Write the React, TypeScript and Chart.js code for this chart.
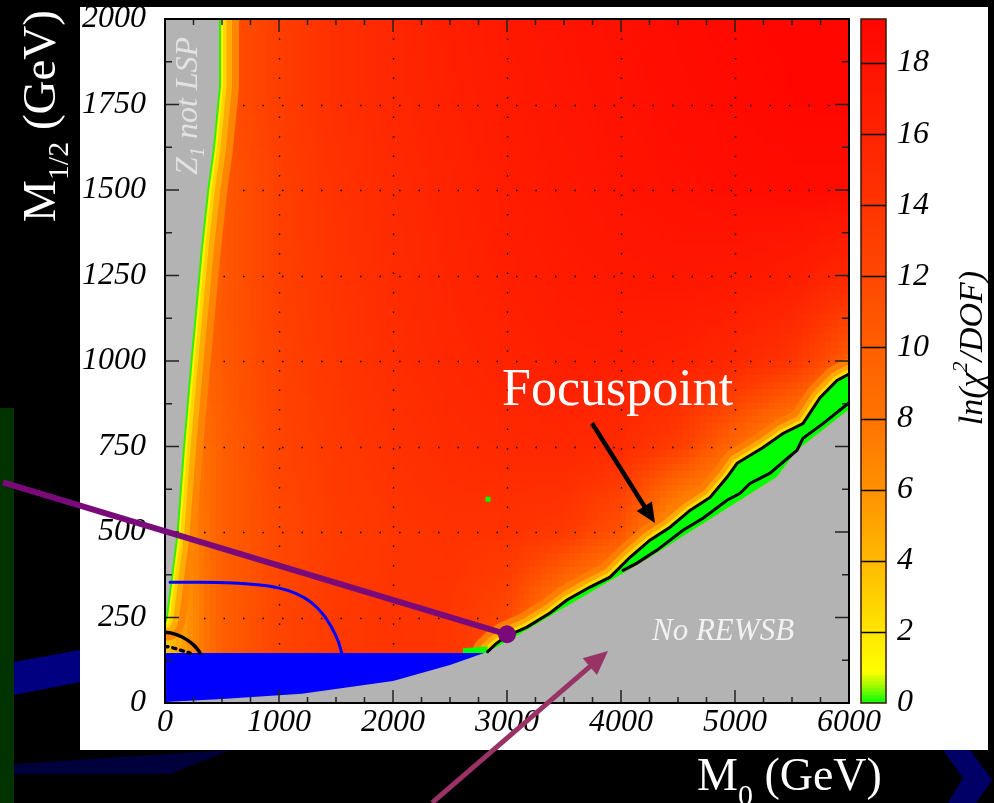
import React, { useEffect, useRef } from "react";
import { Chart, registerables } from "chart.js";

Chart.register(...registerables);

const SERIF = '"Liberation Serif", "Times New Roman", Times, serif';

// ---------- axes ----------
const M0_TICKS = [0, 1000, 2000, 3000, 4000, 5000, 6000];
const M12_TICKS = [0, 250, 500, 750, 1000, 1250, 1500, 1750, 2000];
const LNCHI_TICKS = [0, 2, 4, 6, 8, 10, 12, 14, 16, 18];
const LNCHI_MAX = 19.24;

// ---------- ln(chi2/DOF) map: node values, columns at GRID_M0, one array per M1/2 row ----------
const GRID_M0 = [0, 500, 1000, 1500, 2000, 2500, 3000, 3500, 4000, 4500, 5000, 5500, 6000];
const GRID_M12 = [0, 250, 500, 750, 1000, 1250, 1500, 1750, 2000];
const LNCHI_AT_0 = [3, 10, 12.3, 13.5, 14, 13.8, 12, 6, 2, 1, 1, 1, 1];
const LNCHI_AT_250 = [3, 10, 12.3, 13.5, 14, 13.8, 12, 6, 2, 1, 1, 1, 1];
const LNCHI_AT_500 = [4, 10, 12, 13.2, 13.8, 14.2, 14.2, 13.5, 11, 4, 2, 1, 1];
const LNCHI_AT_750 = [5, 10, 12.4, 13.5, 14.3, 15, 15.3, 15.5, 15, 13, 9, 5, 2];
const LNCHI_AT_1000 = [6, 10.5, 12.6, 13.8, 14.8, 15.5, 16, 16.5, 16.6, 16.3, 15.5, 14, 10];
const LNCHI_AT_1250 = [7, 10.5, 12.8, 14, 15, 15.8, 16.5, 17, 17.3, 17.5, 17.3, 16.8, 15.5];
const LNCHI_AT_1500 = [7, 10.5, 12.8, 14.2, 15.2, 16, 16.8, 17.3, 17.8, 18.1, 18.4, 18.6, 18.5];
const LNCHI_AT_1750 = [8, 11, 13, 14.5, 15.5, 16.3, 17, 17.6, 18, 18.4, 18.7, 19, 19.1];
const LNCHI_AT_2000 = [8, 11, 13, 14.5, 15.5, 16.5, 17.2, 17.8, 18.2, 18.6, 18.9, 19.1, 19.2];
const LNCHI_ROWS = [
  LNCHI_AT_0, LNCHI_AT_250, LNCHI_AT_500, LNCHI_AT_750, LNCHI_AT_1000,
  LNCHI_AT_1250, LNCHI_AT_1500, LNCHI_AT_1750, LNCHI_AT_2000,
];

// ---------- palette ----------
const PALETTE_AT = [0, 0.5, 0.9, 2, 4, 6, 8, 10, 12, 14, 16, 18, 19.24];
const PALETTE_R = [0, 160, 255, 255, 255, 255, 255, 255, 255, 255, 255, 255, 255];
const PALETTE_G = [255, 250, 255, 230, 185, 145, 115, 95, 72, 52, 35, 18, 5];

// ---------- regions ----------
// Z1 not LSP (left wedge) boundary
const LEFT_EDGE_M0 = [0, 10, 102, 158, 219, 263, 315, 370, 420, 474, 474];
const LEFT_EDGE_M12 = [240, 255, 496, 747, 981, 1140, 1328, 1498, 1620, 1804, 2000];
// No REWSB boundary
const REWSB_EDGE_M0 = [0, 500, 1200, 2000, 2500, 2830, 3000, 3500, 4000, 4254, 4500, 5000, 5368, 5544, 6000];
const REWSB_EDGE_M12 = [3, 12, 27, 64, 111, 150, 179, 278, 376, 426, 478, 583, 661, 739, 858];
// blue excluded region (LEP bound)
const BLUE_M0 = [0, 2830, 2830, 0];
const BLUE_M12 = [146, 146, 0, 0];
// focus-point band contours
const BAND_UP_M0 = [2830, 2900, 2982, 3175, 3377, 3526, 3728, 3904, 4079, 4254, 4430, 4605, 4781, 4930, 5018, 5246, 5421, 5596, 5746, 5895, 6000];
const BAND_UP_M12 = [150, 172, 193, 222, 263, 301, 339, 368, 426, 476, 514, 563, 601, 660, 701, 747, 788, 817, 893, 943, 962];
const BAND_LOW_M0 = [4018, 4140, 4316, 4544, 4719, 4930, 5044, 5132, 5307, 5544, 5596, 5772, 6000];
const BAND_LOW_M12 = [388, 409, 447, 505, 540, 593, 613, 642, 672, 739, 774, 817, 878];
const GREEN_PATCH_M0 = [2614, 2830, 2830, 2614];
const GREEN_PATCH_M12 = [146, 146, 165, 160];
// contour lines
const BLUE_CONTOUR_M0 = [44, 300, 600, 800, 1000, 1150, 1280, 1380, 1460, 1520, 1553];
const BLUE_CONTOUR_M12 = [353, 353, 351, 346, 336, 320, 295, 262, 222, 180, 143];
const ARC_SOLID_M0 = [0, 50, 100, 150, 200, 250, 290, 307];
const ARC_SOLID_M12 = [207, 205, 200, 193, 183, 170, 155, 146];
const ARC_DOTTED_M0 = [0, 60, 130, 220];
const ARC_DOTTED_M12 = [166, 162, 155, 146];
// single points
const GREEN_CELL = { x: 2833, y: 596 };
const PURPLE_DOT = { x: 3000, y: 201 };

// ---------- annotations (data coordinates) ----------
const PURPLE_ARROW_M0 = [-1421, 3000];
const PURPLE_ARROW_M12 = [645, 201];
const MAGENTA_ARROW_M0 = [2342, 3886];
const MAGENTA_ARROW_M12 = [-292, 152];
const BLACK_ARROW_M0 = [3746, 4298];
const BLACK_ARROW_M12 = [818, 526];
const FOCUS_LABEL_AT = [2956, 870];
const REWSB_LABEL_AT = [4272, 184];
const LSP_LABEL_AT = [281, 1746];

function lnchiColor(v: number) {
  const c = Math.max(0, Math.min(LNCHI_MAX, v));
  let i = 0;
  while (i < PALETTE_AT.length - 2 && c > PALETTE_AT[i + 1]) i++;
  const t = (c - PALETTE_AT[i]) / (PALETTE_AT[i + 1] - PALETTE_AT[i]);
  const r = Math.round(PALETTE_R[i] + (PALETTE_R[i + 1] - PALETTE_R[i]) * t);
  const g = Math.round(PALETTE_G[i] + (PALETTE_G[i + 1] - PALETTE_G[i]) * t);
  return `rgb(${r},${g},0)`;
}

function nodeIndex(nodes: number[], v: number) {
  let i = 0;
  while (i < nodes.length - 2 && v > nodes[i + 1]) i++;
  return i;
}

function lnchiAt(m0: number, m12: number) {
  const i = nodeIndex(GRID_M0, m0);
  const j = nodeIndex(GRID_M12, m12);
  const tx = (m0 - GRID_M0[i]) / (GRID_M0[i + 1] - GRID_M0[i]);
  const ty = (m12 - GRID_M12[j]) / (GRID_M12[j + 1] - GRID_M12[j]);
  const r0 = LNCHI_ROWS[j];
  const r1 = LNCHI_ROWS[j + 1];
  const a = r0[i] + (r0[i + 1] - r0[i]) * tx;
  const b = r1[i] + (r1[i + 1] - r1[i]) * tx;
  return a + (b - a) * ty;
}

function tracePath(ctx: any, xs: any, ys: any, m0: number[], m12: number[], close: boolean) {
  ctx.beginPath();
  m0.forEach((v, i) => {
    const px = xs.getPixelForValue(v);
    const py = ys.getPixelForValue(m12[i]);
    if (i === 0) ctx.moveTo(px, py);
    else ctx.lineTo(px, py);
  });
  if (close) ctx.closePath();
}

const CELL_M0 = 50;
const CELL_M12 = 20;

const backgroundPlugin = {
  id: "slideBackground",
  beforeDraw(chart: any) {
    const { ctx, width, height } = chart;
    ctx.save();
    ctx.fillStyle = "#000";
    ctx.fillRect(0, 0, width, height);
    ctx.fillStyle = "#003300";
    ctx.fillRect(0, 408, 14, height - 408);
    ctx.fillStyle = "#000080";
    ctx.beginPath();
    ctx.moveTo(14, 662); ctx.lineTo(80, 650); ctx.lineTo(80, 682); ctx.lineTo(14, 695);
    ctx.closePath(); ctx.fill();
    ctx.fillStyle = "#00003c";
    ctx.beginPath();
    ctx.moveTo(14, 764); ctx.lineTo(230, 750); ctx.lineTo(170, 774); ctx.lineTo(14, 774);
    ctx.closePath(); ctx.fill();
    ctx.fillStyle = "#000066";
    ctx.beginPath();
    ctx.moveTo(943, 750); ctx.lineTo(970, 750); ctx.lineTo(992, 780); ctx.lineTo(976, 803);
    ctx.lineTo(948, 803); ctx.lineTo(963, 778);
    ctx.closePath(); ctx.fill();
    ctx.fillStyle = "#fff";
    ctx.fillRect(80, 7, 908, 743);
    ctx.restore();
  },
};

const regionsPlugin = {
  id: "regions",
  beforeDatasetsDraw(chart: any) {
    const { ctx, chartArea } = chart;
    const xs = chart.scales.x;
    const ys = chart.scales.y;
    ctx.save();
    ctx.beginPath();
    ctx.rect(chartArea.left, chartArea.top, chartArea.right - chartArea.left, chartArea.bottom - chartArea.top);
    ctx.clip();
    // colour map
    for (let a = 0; a < 6000; a += CELL_M0) {
      const px0 = Math.floor(xs.getPixelForValue(a));
      const px1 = Math.ceil(xs.getPixelForValue(a + CELL_M0));
      for (let b = 0; b < 2000; b += CELL_M12) {
        const py0 = Math.floor(ys.getPixelForValue(b + CELL_M12));
        const py1 = Math.ceil(ys.getPixelForValue(b));
        ctx.fillStyle = lnchiColor(lnchiAt(a + CELL_M0 / 2, b + CELL_M12 / 2));
        ctx.fillRect(px0, py0, px1 - px0, py1 - py0);
      }
    }
    // dotted grid
    ctx.strokeStyle = "#000";
    ctx.lineWidth = 1.4;
    ctx.setLineDash([1.5, 18]);
    M0_TICKS.slice(1, -1).forEach((v) => {
      const px = Math.round(xs.getPixelForValue(v)) + 0.5;
      ctx.beginPath();
      ctx.moveTo(px, chartArea.bottom);
      ctx.lineTo(px, chartArea.top);
      ctx.stroke();
    });
    M12_TICKS.slice(1, -1).forEach((v) => {
      const py = Math.round(ys.getPixelForValue(v)) + 0.5;
      ctx.beginPath();
      ctx.moveTo(chartArea.left, py);
      ctx.lineTo(chartArea.right, py);
      ctx.stroke();
    });
    ctx.setLineDash([]);
    ctx.lineJoin = "round";
    ctx.lineCap = "round";
    // strip along the Z1-not-LSP boundary
    [[40, "#ff8400"], [26, "#ffac00"], [15, "#ffd600"], [8, "#fff500"], [4, "#30f000"]].forEach(([w, c]) => {
      tracePath(ctx, xs, ys, LEFT_EDGE_M0, LEFT_EDGE_M12, false);
      ctx.lineWidth = w;
      ctx.strokeStyle = c;
      ctx.stroke();
    });
    tracePath(ctx, xs, ys, LEFT_EDGE_M0.concat([0]), LEFT_EDGE_M12.concat([2000]), true);
    ctx.fillStyle = "#b3b3b3";
    ctx.fill();
    // glow along focus-point band
    [[30, "#ff7e00"], [18, "#ffa800"], [9, "#ffdc00"]].forEach(([w, c]) => {
      tracePath(ctx, xs, ys, BAND_UP_M0, BAND_UP_M12, false);
      ctx.lineWidth = w;
      ctx.strokeStyle = c;
      ctx.stroke();
    });
    // green band: upper contour, back along the REWSB edge
    const edgeM0: number[] = [];
    const edgeM12: number[] = [];
    for (let i = REWSB_EDGE_M0.length - 1; i >= 0; i--) {
      if (REWSB_EDGE_M0[i] >= 2830) {
        edgeM0.push(REWSB_EDGE_M0[i]);
        edgeM12.push(REWSB_EDGE_M12[i]);
      }
    }
    tracePath(ctx, xs, ys, BAND_UP_M0.concat(edgeM0), BAND_UP_M12.concat(edgeM12), true);
    ctx.fillStyle = "#00ff00";
    ctx.fill();
    tracePath(ctx, xs, ys, GREEN_PATCH_M0, GREEN_PATCH_M12, true);
    ctx.fill();
    // blue region
    tracePath(ctx, xs, ys, BLUE_M0, BLUE_M12, true);
    ctx.fillStyle = "#0000ff";
    ctx.fill();
    // No REWSB region
    tracePath(ctx, xs, ys, REWSB_EDGE_M0.concat([6000, 0]), REWSB_EDGE_M12.concat([0, 0]), true);
    ctx.fillStyle = "#b3b3b3";
    ctx.fill();
    ctx.restore();
  },
};

const framePlugin = {
  id: "frame",
  afterDatasetsDraw(chart: any) {
    const { ctx, chartArea } = chart;
    const xs = chart.scales.x;
    const ys = chart.scales.y;
    const cb = chart.scales.cb;
    const { left, right, top, bottom } = chartArea;
    ctx.save();
    // ticks (inside)
    ctx.strokeStyle = "#222";
    ctx.lineWidth = 1.5;
    ctx.beginPath();
    for (let i = 0; i < M0_TICKS.length; i++) {
      const v = M0_TICKS[i];
      const px = xs.getPixelForValue(v);
      ctx.moveTo(px, bottom); ctx.lineTo(px, bottom - 13);
      ctx.moveTo(px, top); ctx.lineTo(px, top + 13);
      if (i < M0_TICKS.length - 1) {
        const step = (M0_TICKS[i + 1] - v) / 4;
        for (let k = 1; k < 4; k++) {
          const qx = xs.getPixelForValue(v + k * step);
          ctx.moveTo(qx, bottom); ctx.lineTo(qx, bottom - 6);
          ctx.moveTo(qx, top); ctx.lineTo(qx, top + 6);
        }
      }
    }
    for (let i = 0; i < M12_TICKS.length; i++) {
      const v = M12_TICKS[i];
      const py = ys.getPixelForValue(v);
      ctx.moveTo(left, py); ctx.lineTo(left + 14, py);
      ctx.moveTo(right, py); ctx.lineTo(right - 14, py);
      if (i < M12_TICKS.length - 1) {
        const qy = ys.getPixelForValue(v + (M12_TICKS[i + 1] - v) / 2);
        ctx.moveTo(left, qy); ctx.lineTo(left + 7, qy);
        ctx.moveTo(right, qy); ctx.lineTo(right - 7, qy);
      }
    }
    ctx.stroke();
    // frame
    ctx.strokeStyle = "#000";
    ctx.lineWidth = 2;
    ctx.strokeRect(left, top, right - left, bottom - top);

    // colour bar
    const bx0 = right + 12;
    const bw = 25;
    const step = 0.04;
    for (let v = 0; v < LNCHI_MAX; v += step) {
      const y0 = Math.floor(cb.getPixelForValue(Math.min(LNCHI_MAX, v + step)));
      const y1 = Math.ceil(cb.getPixelForValue(v));
      ctx.fillStyle = lnchiColor(v + step / 2);
      ctx.fillRect(bx0, y0, bw, y1 - y0);
    }
    ctx.strokeStyle = "#000";
    ctx.lineWidth = 1.5;
    ctx.beginPath();
    LNCHI_TICKS.slice(1).forEach((v) => {
      const py = Math.round(cb.getPixelForValue(v)) + 0.5;
      ctx.moveTo(bx0, py); ctx.lineTo(bx0 + bw, py);
    });
    ctx.stroke();
    ctx.strokeStyle = "#3a1800";
    ctx.strokeRect(bx0, cb.getPixelForValue(LNCHI_MAX), bw, cb.getPixelForValue(0) - cb.getPixelForValue(LNCHI_MAX));
    ctx.restore();
  },
};

function drawArrow(ctx: any, x0: number, y0: number, x1: number, y1: number, color: string, width: number, headLen: number, headHalf: number) {
  const ang = Math.atan2(y1 - y0, x1 - x0);
  const bx = x1 - Math.cos(ang) * headLen;
  const by = y1 - Math.sin(ang) * headLen;
  ctx.strokeStyle = color;
  ctx.fillStyle = color;
  ctx.lineWidth = width;
  ctx.lineCap = "butt";
  ctx.beginPath();
  ctx.moveTo(x0, y0);
  ctx.lineTo(x1 - Math.cos(ang) * headLen * 0.6, y1 - Math.sin(ang) * headLen * 0.6);
  ctx.stroke();
  ctx.beginPath();
  ctx.moveTo(x1, y1);
  ctx.lineTo(bx + Math.sin(ang) * headHalf, by - Math.cos(ang) * headHalf);
  ctx.lineTo(bx - Math.sin(ang) * headHalf, by + Math.cos(ang) * headHalf);
  ctx.closePath();
  ctx.fill();
}

function drawPieces(ctx: any, pieces: any[], x: number) {
  let cx = x;
  pieces.forEach((p) => {
    ctx.font = p.font;
    ctx.fillText(p.text, cx, p.dy);
    cx += ctx.measureText(p.text).width;
  });
}

function piecesWidth(ctx: any, pieces: any[]) {
  let w = 0;
  pieces.forEach((p) => {
    ctx.font = p.font;
    w += ctx.measureText(p.text).width;
  });
  return w;
}

const annotationPlugin = {
  id: "annotations",
  afterDraw(chart: any) {
    const { ctx, chartArea } = chart;
    const xs = chart.scales.x;
    const ys = chart.scales.y;
    const px = (v: number) => xs.getPixelForValue(v);
    const py = (v: number) => ys.getPixelForValue(v);
    ctx.save();
    ctx.textBaseline = "alphabetic";

    // in-plot labels
    ctx.fillStyle = "#fff";
    ctx.font = `52px ${SERIF}`;
    ctx.textAlign = "left";
    ctx.fillText("Focuspoint", px(FOCUS_LABEL_AT[0]), py(FOCUS_LABEL_AT[1]));
    ctx.fillStyle = "#f2f2f2";
    ctx.font = `italic 31px ${SERIF}`;
    ctx.fillText("No REWSB", px(REWSB_LABEL_AT[0]), py(REWSB_LABEL_AT[1]));

    ctx.save();
    ctx.translate(px(LSP_LABEL_AT[0]), py(LSP_LABEL_AT[1]));
    ctx.rotate(-Math.PI / 2);
    ctx.fillStyle = "#e2e2e2";
    const lsp = [
      { text: "Z", font: `italic 32px ${SERIF}`, dy: 0 },
      { text: "1", font: `italic 20px ${SERIF}`, dy: 7 },
      { text: " not LSP", font: `italic 32px ${SERIF}`, dy: 0 },
    ];
    drawPieces(ctx, lsp, -piecesWidth(ctx, lsp) / 2);
    ctx.restore();

    // arrows
    drawArrow(ctx, px(BLACK_ARROW_M0[0]), py(BLACK_ARROW_M12[0]), px(BLACK_ARROW_M0[1]), py(BLACK_ARROW_M12[1]), "#000", 4.5, 20, 9);
    ctx.strokeStyle = "#7a0a7a";
    ctx.lineWidth = 6;
    ctx.lineCap = "butt";
    ctx.beginPath();
    ctx.moveTo(px(PURPLE_ARROW_M0[0]), py(PURPLE_ARROW_M12[0]));
    ctx.lineTo(px(PURPLE_ARROW_M0[1]), py(PURPLE_ARROW_M12[1]));
    ctx.stroke();
    ctx.fillStyle = "#7a0a7a";
    ctx.beginPath();
    ctx.arc(px(PURPLE_DOT.x), py(PURPLE_DOT.y), 9, 0, Math.PI * 2);
    ctx.fill();
    drawArrow(ctx, px(MAGENTA_ARROW_M0[0]), py(MAGENTA_ARROW_M12[0]), px(MAGENTA_ARROW_M0[1]), py(MAGENTA_ARROW_M12[1]), "#993366", 5, 24, 11);

    // axis titles (white on the slide)
    ctx.fillStyle = "#fff";
    const ytitle = [
      { text: "M", font: `47px ${SERIF}`, dy: 0 },
      { text: "1/2", font: `30px ${SERIF}`, dy: 13 },
      { text: " (GeV)", font: `47px ${SERIF}`, dy: 0 },
    ];
    ctx.save();
    ctx.translate(55, 116);
    ctx.rotate(-Math.PI / 2);
    drawPieces(ctx, ytitle, -piecesWidth(ctx, ytitle) / 2);
    ctx.restore();
    const xtitle = [
      { text: "M", font: `46px ${SERIF}`, dy: 0 },
      { text: "0", font: `30px ${SERIF}`, dy: 15 },
      { text: " (GeV)", font: `46px ${SERIF}`, dy: 0 },
    ];
    ctx.save();
    ctx.translate(chartArea.right - 152, 790);
    drawPieces(ctx, xtitle, 0);
    ctx.restore();

    // colour bar title
    ctx.fillStyle = "#000";
    const ztitle = [
      { text: "ln(χ", font: `italic 34px ${SERIF}`, dy: 0 },
      { text: "2", font: `italic 22px ${SERIF}`, dy: -15 },
      { text: "/DOF)", font: `italic 34px ${SERIF}`, dy: 0 },
    ];
    ctx.save();
    ctx.translate(chartArea.right + 133, 348);
    ctx.rotate(-Math.PI / 2);
    drawPieces(ctx, ztitle, -piecesWidth(ctx, ztitle) / 2);
    ctx.restore();

    ctx.restore();
  },
};

const TICK_FONT = { family: SERIF, size: 32, style: "italic" as const };

function lineSet(label: string, m0: number[], m12: number[], color: string, width: number, dash: number[], smooth: boolean) {
  return {
    label,
    data: m0.map((x, i) => ({ x, y: m12[i] })),
    showLine: true,
    borderColor: color,
    backgroundColor: color,
    borderWidth: width,
    borderDash: dash,
    borderCapStyle: "round",
    pointRadius: 0,
    fill: false,
    tension: smooth ? 0.4 : 0,
    cubicInterpolationMode: smooth ? "monotone" : "default",
  };
}

function noPadding(s: any) {
  s.paddingTop = 0;
  s.paddingBottom = 0;
}

export default function App() {
  const ref = useRef<HTMLCanvasElement>(null);
  useEffect(() => {
    const canvas = ref.current as HTMLCanvasElement;
    const chart = new Chart(canvas, {
      type: "scatter",
      data: {
        datasets: [
          lineSet("band upper contour", BAND_UP_M0, BAND_UP_M12, "#000", 3, [], false),
          lineSet("band lower contour", BAND_LOW_M0, BAND_LOW_M12, "#000", 3, [], false),
          lineSet("blue contour", BLUE_CONTOUR_M0, BLUE_CONTOUR_M12, "#0000ff", 3, [], true),
          lineSet("solid arc", ARC_SOLID_M0, ARC_SOLID_M12, "#000", 3.5, [], true),
          lineSet("dotted arc", ARC_DOTTED_M0, ARC_DOTTED_M12, "#000", 3.5, [3, 5], true),
          {
            label: "green cell",
            data: [GREEN_CELL],
            pointStyle: "rect",
            pointRadius: 3.5,
            backgroundColor: "#00ff00",
            borderWidth: 0,
          },
        ] as any,
      },
      options: {
        animation: false,
        responsive: false,
        devicePixelRatio: 1,
        events: [],
        layout: { padding: { left: 80, top: 19, right: 0, bottom: 0 } },
        plugins: { legend: { display: false }, tooltip: { enabled: false } },
        scales: {
          x: {
            type: "linear",
            position: "bottom",
            min: 0,
            max: 6000,
            afterBuildTicks: (s: any) => { s.ticks = M0_TICKS.map((value) => ({ value })); },
            afterFit: (s: any) => { s.height = 100; },
            grid: { display: false, drawTicks: false },
            border: { display: false },
            ticks: { font: TICK_FONT, color: "#000", padding: 0, maxRotation: 0, autoSkip: false, callback: (v: any) => String(v) },
          },
          y: {
            type: "linear",
            position: "left",
            min: 0,
            max: 2000,
            afterBuildTicks: (s: any) => { s.ticks = M12_TICKS.map((value) => ({ value })); },
            afterFit: (s: any) => { s.width = 85; noPadding(s); },
            grid: { display: false, drawTicks: false },
            border: { display: false },
            ticks: { font: TICK_FONT, color: "#000", padding: 19, autoSkip: false, callback: (v: any) => String(v) },
          },
          cb: {
            type: "linear",
            position: "right",
            min: 0,
            max: LNCHI_MAX,
            afterBuildTicks: (s: any) => { s.ticks = LNCHI_TICKS.map((value) => ({ value })); },
            afterFit: (s: any) => { s.width = 145; noPadding(s); },
            grid: { display: false, drawTicks: false },
            border: { display: false },
            ticks: { font: TICK_FONT, color: "#000", padding: 48, autoSkip: false, callback: (v: any) => String(v) },
          },
        } as any,
      },
      plugins: [backgroundPlugin, regionsPlugin, framePlugin, annotationPlugin],
    });
    return () => chart.destroy();
  }, []);
  return (
    <div style={{ position: "fixed", left: 0, top: 0, width: 994, height: 803, background: "#000" }}>
      <canvas ref={ref} width={994} height={803} style={{ display: "block", width: 994, height: 803 }} />
    </div>
  );
}
